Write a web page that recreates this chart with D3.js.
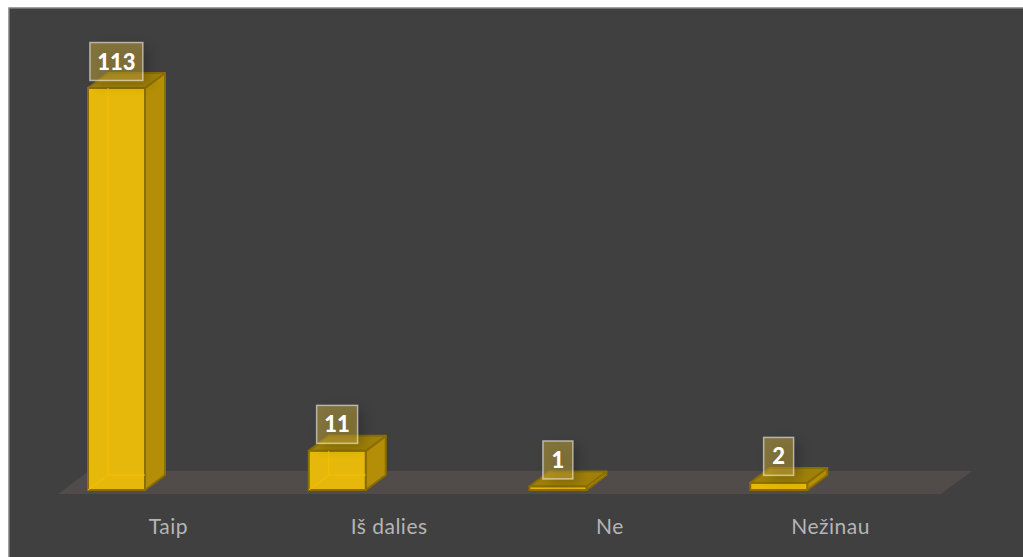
<!DOCTYPE html>
<html>
<head>
<meta charset="utf-8">
<script src="https://cdn.jsdelivr.net/npm/d3@7"></script>
<style>
  html, body { margin: 0; padding: 0; background: #fff; }
  svg { display: block; }
</style>
</head>
<body>
<svg id="viz"></svg>
<script>
const categories = ["Taip", "Iš dalies", "Ne", "Nežinau"];
const values = [113, 11, 1, 2];

const width = 1023, height = 557;
const depthX = 20, depthY = -15;  // 3d offset of the back of the bars
const baseY = 490;

const svg = d3.select("#viz").attr("width", width).attr("height", height);

const defs = svg.append("defs");
const blur = defs.append("filter").attr("id", "soft").attr("x", "-40%").attr("y", "-40%").attr("width", "200%").attr("height", "200%");
blur.append("feGaussianBlur").attr("stdDeviation", 6);

// chart panel
svg.append("rect")
  .attr("x", 9).attr("y", 8)
  .attr("width", width - 9).attr("height", height - 8)
  .attr("fill", "#404040");
svg.append("path")
  .attr("d", `M9,${height} V8 H${width}`)
  .attr("fill", "none").attr("stroke", "#808080").attr("stroke-width", 1.5);

const x = d3.scaleBand().domain(categories).range([58, 941]).paddingInner(0).paddingOuter(0);
const y = d3.scaleLinear().domain([0, 113]).range([baseY, 88]);

// floor
svg.append("path")
  .attr("d", d3.line()([[58, 494], [941, 494], [972, 471], [89, 471]]) + "Z")
  .attr("fill", "#514c4a");

const barLeft = d => x(d.cat) + 30;
const barW = 57;
const data = categories.map((c, i) => ({ cat: c, value: values[i] }));

const bars = svg.append("g").selectAll("g").data(data).join("g");

const poly = pts => d3.line()(pts) + "Z";
const edge = "#8a6e00";

// right side
bars.append("path")
  .attr("d", d => {
    const r = barLeft(d) + barW, b = baseY, t = y(d.value);
    return poly([[r, b], [r + depthX, b + depthY], [r + depthX, t + depthY], [r, t]]);
  })
  .attr("fill", "#b38e06").attr("stroke", edge).attr("stroke-width", 2).attr("stroke-linejoin", "round");

// top
bars.append("path")
  .attr("d", d => {
    const l = barLeft(d), r = l + barW, t = y(d.value);
    return poly([[l, t], [r, t], [r + depthX, t + depthY], [l + depthX, t + depthY]]);
  })
  .attr("fill", "#a0800a").attr("stroke", edge).attr("stroke-width", 2).attr("stroke-linejoin", "round");

// front
bars.append("rect")
  .attr("x", barLeft)
  .attr("y", d => y(d.value))
  .attr("width", barW)
  .attr("height", d => baseY - y(d.value))
  .attr("fill", "#e6b80b").attr("stroke", edge).attr("stroke-width", 2);

// inner back edges, faint, only for bars tall enough to show them
bars.filter(d => d.value > 5).append("path")
  .attr("d", d => {
    const l = barLeft(d), r = l + barW, b = baseY, t = y(d.value);
    return `M${l + depthX},${t} V${b + depthY} H${r} M${l},${b} L${l + depthX},${b + depthY}`;
  })
  .attr("fill", "none").attr("stroke", "#f2c200").attr("stroke-width", 1);

// data labels
const labelW = d => d.value >= 100 ? 53 : d.value >= 10 ? 41 : 30;
const labelH = 38;
const labelCx = d => x(d.cat) + x.bandwidth() / 2 - 52;
const labelX = d => labelCx(d) - labelW(d) / 2;
const labelY = d => y(d.value) - 45.5;

const labels = svg.append("g").selectAll("g").data(data).join("g");

labels.append("rect")
  .attr("x", d => labelX(d) + 6).attr("y", d => labelY(d) + 4)
  .attr("width", labelW).attr("height", labelH)
  .attr("fill", "#000").attr("opacity", 0.2).attr("filter", "url(#soft)");

labels.append("rect")
  .attr("x", labelX).attr("y", labelY)
  .attr("width", labelW).attr("height", labelH)
  .attr("fill", "#c8a73a").attr("fill-opacity", 0.5)
  .attr("stroke", "#fff").attr("stroke-opacity", 0.55).attr("stroke-width", 1.5);

labels.append("text")
  .attr("x", labelCx)
  .attr("y", d => labelY(d) + labelH / 2 + 8)
  .attr("text-anchor", "middle")
  .attr("font-family", "Lato, sans-serif")
  .attr("font-weight", 900).attr("font-size", 22)
  .attr("fill", "#fff")
  .text(d => d.value);

// category axis, domain and ticks hidden
const axis = svg.append("g")
  .attr("transform", "translate(0,534)")
  .call(d3.axisBottom(x).tickSize(0).tickPadding(0));
axis.select(".domain").remove();
axis.selectAll("text")
  .attr("font-family", "Lato, sans-serif")
  .attr("font-size", 21)
  .attr("letter-spacing", 0.5)
  .attr("fill", "#b5b5b5")
  .attr("dy", 0)
  .attr("y", 0);
</script>
</body>
</html>
